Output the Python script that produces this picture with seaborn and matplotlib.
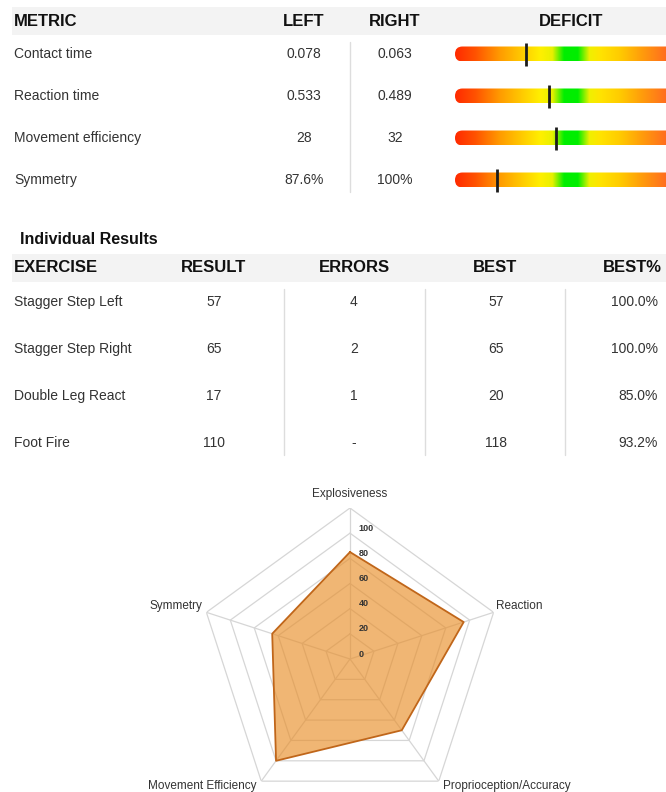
import numpy as np
import matplotlib
matplotlib.use('Agg')
import matplotlib.pyplot as plt
from matplotlib.colors import LinearSegmentedColormap
from matplotlib.patches import FancyBboxPatch, Rectangle
import seaborn as sns

# ---- data ----
metrics = ['Contact time', 'Reaction time', 'Movement efficiency', 'Symmetry']
left_vals = ['0.078', '0.533', '28', '87.6%']
right_vals = ['0.063', '0.489', '32', '100%']
deficit = [-19.4, -9.6, -6.3, -32.0]   # marker position on a -50..50 scale, 0 = green

exercises = ['Stagger Step Left', 'Stagger Step Right', 'Double Leg React', 'Foot Fire']
results = [57, 65, 17, 110]
errors = ['4', '2', '1', '-']
best = [57, 65, 20, 118]

radar_labels = ['Explosiveness', 'Reaction', 'Proprioception/Accuracy',
                'Movement Efficiency', 'Symmetry']
radar_values = [85, 95, 70, 100, 65]
radar_ticks = [0, 20, 40, 60, 80, 100]

sns.set_theme(style='white')
plt.rcParams['font.family'] = ['Liberation Sans', 'DejaVu Sans']

W, H = 666, 792
fig = plt.figure(figsize=(W / 100, H / 100), dpi=100)
ax = fig.add_axes([0, 0, 1, 1])
ax.set_xlim(0, W)
ax.set_ylim(H, 0)
ax.axis('off')

hdr = dict(fontsize=12, fontweight='bold', color='#111111', va='center')
body = dict(fontsize=10, color='#333333', va='center')
band = '#f3f3f3'
sep = '#dddddd'

# ---- top table ----
ax.add_patch(Rectangle((12, 7), W - 12, 28, color=band, lw=0))
ax.text(14, 21, 'METRIC', ha='left', **hdr)
ax.text(304, 21, 'LEFT', ha='center', **hdr)
ax.text(395, 21, 'RIGHT', ha='center', **hdr)
ax.text(571, 21, 'DEFICIT', ha='center', **hdr)

row_y = [54, 96, 138, 180]
for y, m, l, r in zip(row_y, metrics, left_vals, right_vals):
    ax.text(14, y, m, ha='left', **body)
    ax.text(304, y, l, ha='center', **body)
    ax.text(395, y, r, ha='center', **body)
ax.plot([350, 350], [42, 192], color=sep, lw=1)

# deficit bars in their own axes (-50..50 scale)
cmap = LinearSegmentedColormap.from_list('deficit', [
    (0.0, '#ff2a00'), (0.086, '#ff5200'), (0.194, '#ff9c00'), (0.30, '#ffd000'),
    (0.37, '#fff000'), (0.42, '#e8f000'), (0.47, '#00ee00'), (0.53, '#00ee00'),
    (0.58, '#f0f000'), (0.625, '#ffe400'), (0.71, '#ffcc00'), (0.80, '#ffa00a'),
    (0.91, '#ff6e1e'), (1.0, '#ff3c14')])
bx0, bx1, by0, by1 = 455, 687, 40, 194
dax = fig.add_axes([bx0 / W, 1 - by1 / H, (bx1 - bx0) / W, (by1 - by0) / H])
dax.axis('off')
grad = np.linspace(0, 1, 512)[None, :]
px_per_unit = (bx1 - bx0) / 100
for y, d in zip(row_y, deficit):
    im = dax.imshow(grad, cmap=cmap, extent=(-50, 50, y + 7.5, y - 7.5),
                    aspect='auto', interpolation='bilinear')
    pill = FancyBboxPatch((-50, y - 7.5), 100, 15,
                          boxstyle='round,pad=0,rounding_size=%f' % (7.5 / px_per_unit),
                          mutation_aspect=px_per_unit, fc='none', ec='none')
    dax.add_patch(pill)
    im.set_clip_path(pill)
    dax.vlines(d, y - 11.5, y + 11.5, color='#1c1c1c', lw=2)
dax.set_xlim(-50, 50)
dax.set_ylim(by1, by0)

# ---- individual results ----
ax.text(20, 239, 'Individual Results', ha='left', fontsize=11.5, fontweight='bold',
        color='#111111', va='center')
ax.add_patch(Rectangle((12, 254), W - 12, 28, color=band, lw=0))
ax.text(14, 268, 'EXERCISE', ha='left', **hdr)
ax.text(214, 268, 'RESULT', ha='center', **hdr)
ax.text(354, 268, 'ERRORS', ha='center', **hdr)
ax.text(495, 268, 'BEST', ha='center', **hdr)
ax.text(662, 268, 'BEST%', ha='right', **hdr)

row_y2 = [302, 349, 396, 443]
for y, ex, res, err, b in zip(row_y2, exercises, results, errors, best):
    ax.text(14, y, ex, ha='left', **body)
    ax.text(214, y, str(res), ha='center', **body)
    ax.text(354, y, err, ha='center', **body)
    ax.text(496, y, str(b), ha='center', **body)
    ax.text(658, y, '%.1f%%' % (res / b * 100), ha='right', **body)
for x in [284, 425, 565]:
    ax.plot([x, x], [289, 455], color=sep, lw=1)

# ---- radar ----
cx, cy, R = 350, 659, 151
pax = fig.add_axes([(cx - R) / W, 1 - (cy + R) / H, 2 * R / W, 2 * R / H],
                   projection='polar')
pax.set_theta_offset(np.pi / 2)
pax.set_theta_direction(-1)
pax.patch.set_visible(False)
pax.grid(False)
pax.spines['polar'].set_visible(False)
pax.set_xticks([])
pax.set_yticks([])

n = len(radar_labels)
theta = np.linspace(0, 2 * np.pi, n, endpoint=False)
closed = np.append(theta, theta[0])
rmax = 120
for r in range(20, rmax + 1, 20):
    pax.plot(closed, [r] * (n + 1), color='#d6d6d6', lw=0.9, zorder=1)
for t in theta:
    pax.plot([t, t], [0, rmax], color='#d6d6d6', lw=0.9, zorder=1)

vals = np.append(radar_values, radar_values[0])
pax.fill(closed, vals, color='#e88f2a', alpha=0.65, lw=0, zorder=2)
pax.plot(closed, vals, color='#c0661a', lw=1.3, zorder=3)
pax.set_ylim(0, rmax)

for tk in radar_ticks:
    pax.annotate(str(tk), xy=(0, tk), xytext=(6, 3.5), textcoords='offset points',
                 ha='left', va='center', fontsize=6.5, color='#333333',
                 fontweight='bold', annotation_clip=False, zorder=4)

label_pos = [((0, 6), 'center', 'bottom'),
             ((2, 0), 'left', 'bottom'),
             ((3, 0.8), 'left', 'top'),
             ((-3.5, 0.8), 'right', 'top'),
             ((-3, 0), 'right', 'bottom')]
for t, lab, (off, ha, va) in zip(theta, radar_labels, label_pos):
    pax.annotate(lab, xy=(t, rmax), xytext=off, textcoords='offset points',
                 ha=ha, va=va, fontsize=8.5, color='#333333', annotation_clip=False)

fig.savefig('out.png', dpi=100)
